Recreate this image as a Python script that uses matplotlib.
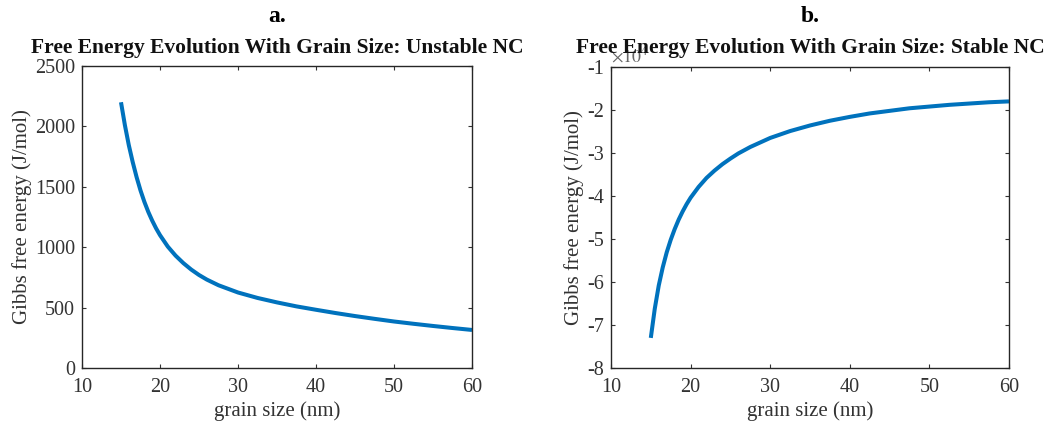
import matplotlib
matplotlib.use("Agg")
import matplotlib.pyplot as plt

# grain size (nm) and Gibbs free energy (J/mol) for both nanocrystal cases
grain_size = [15, 15.5, 16, 16.5, 17, 17.5, 18, 18.5, 19, 19.5, 20, 21, 22, 23, 24,
              25, 26, 27.5, 30, 32.5, 35, 37.5, 40, 42.5, 45, 47.5, 50, 52.5, 55,
              57.5, 60]

g_unstable = [2200, 2010, 1845, 1705, 1580, 1470, 1375, 1292, 1220, 1156, 1100,
              1005, 930, 868, 815, 770, 732, 685, 625, 580, 543, 510, 482, 455,
              430, 407, 385, 366, 348, 331, 315]

# stable case in units of 1e4 J/mol
g_stable = [-7.3, -6.62, -6.08, -5.66, -5.31, -5.02, -4.77, -4.55, -4.36, -4.19,
            -4.04, -3.79, -3.58, -3.41, -3.26, -3.13, -3.01, -2.86, -2.65, -2.49,
            -2.36, -2.25, -2.16, -2.08, -2.02, -1.96, -1.92, -1.88, -1.85, -1.82,
            -1.80]

x_ticks = [10, 20, 30, 40, 50, 60]
y_ticks_a = [0, 500, 1000, 1500, 2000, 2500]
y_ticks_b = [-8, -7, -6, -5, -4, -3, -2, -1]

plt.rcParams["font.family"] = ["Liberation Serif", "DejaVu Serif"]
plt.rcParams["mathtext.fontset"] = "stix"
plt.rcParams["axes.unicode_minus"] = False

W, H = 1048, 423
fig = plt.figure(figsize=(W / 100, H / 100), dpi=100)

line_color = "#0072BD"
ink = "#333333"


def px_axes(left, top, right, bottom):
    return fig.add_axes([left / W, 1 - bottom / H, (right - left) / W, (bottom - top) / H])


def style(ax):
    ax.tick_params(direction="in", top=True, right=True, length=3, width=0.8,
                   colors=ink, labelsize=14.5, pad=5)
    ax.tick_params(axis="x", pad=7)
    for s in ax.spines.values():
        s.set_color("#262626")
        s.set_linewidth(1.0)
    ax.set_xlabel("grain size (nm)", fontsize=15, color=ink, labelpad=3)
    ax.set_ylabel("Gibbs free energy (J/mol)", fontsize=15, color=ink, labelpad=2)


ax1 = px_axes(82, 66, 472, 368)
ax1.plot(grain_size, g_unstable, color=line_color, lw=2.9, solid_capstyle="butt")
ax1.set_xlim(10, 60)
ax1.set_ylim(0, 2500)
ax1.set_xticks(x_ticks)
ax1.set_yticks(y_ticks_a)
style(ax1)

ax2 = px_axes(611, 67, 1009, 368)
ax2.plot(grain_size, g_stable, color=line_color, lw=2.9, solid_capstyle="butt")
ax2.set_xlim(10, 60)
ax2.set_ylim(-8, -1)
ax2.set_xticks(x_ticks)
ax2.set_yticks(y_ticks_b)
style(ax2)
ax2.text(0.0, 1.005, r"$\times10^{4}$", transform=ax2.transAxes, fontsize=13,
         color="#666666", ha="left", va="bottom")

for ax, letter, title in [(ax1, "a.", "Free Energy Evolution With Grain Size: Unstable NC"),
                          (ax2, "b.", "Free Energy Evolution With Grain Size: Stable NC")]:
    cx = (ax.get_position().x0 + ax.get_position().x1) / 2
    fig.text(cx, 1 - 16 / H, letter, ha="center", va="center", fontsize=17,
             fontweight="bold", color="black")
    fig.text(cx, 1 - 48 / H, title, ha="center", va="center", fontsize=15.5,
             fontweight="bold", color="#111111")

fig.savefig("out.png", dpi=100, facecolor="white")
